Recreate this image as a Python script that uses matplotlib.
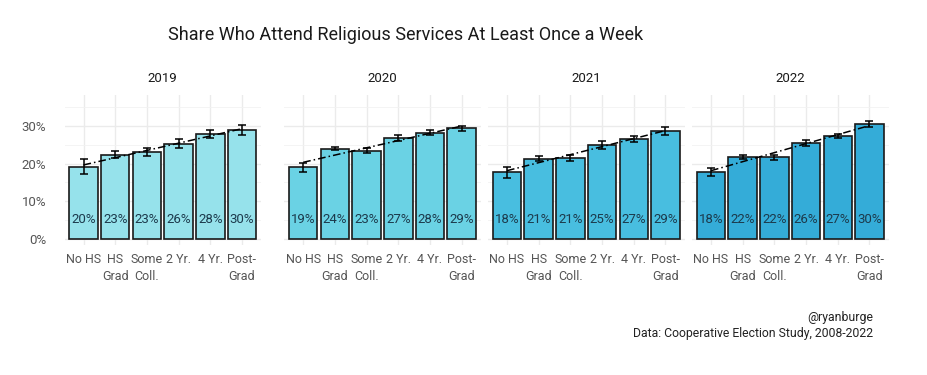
import numpy as np
import matplotlib.pyplot as plt

plt.rcParams['font.family'] = ['Roboto', 'DejaVu Sans']

years = ['2019', '2020', '2021', '2022']
categories = ['No HS', 'HS\nGrad', 'Some\nColl.', '2 Yr.', '4 Yr.', 'Post-\nGrad']

# share attending weekly (bar heights)
share_2019 = [0.192, 0.224, 0.231, 0.253, 0.279, 0.290]
share_2020 = [0.191, 0.240, 0.235, 0.268, 0.283, 0.294]
share_2021 = [0.177, 0.213, 0.214, 0.250, 0.267, 0.287]
share_2022 = [0.178, 0.218, 0.217, 0.256, 0.274, 0.305]

# half width of the error bars
err_2019 = [0.020, 0.010, 0.010, 0.012, 0.010, 0.014]
err_2020 = [0.012, 0.004, 0.006, 0.008, 0.006, 0.007]
err_2021 = [0.015, 0.007, 0.008, 0.0115, 0.008, 0.010]
err_2022 = [0.0105, 0.006, 0.0065, 0.008, 0.005, 0.0075]

# printed labels
lab_2019 = [20, 23, 23, 26, 28, 30]
lab_2020 = [19, 24, 23, 27, 28, 29]
lab_2021 = [18, 21, 21, 25, 27, 29]
lab_2022 = [18, 22, 22, 26, 27, 30]

colors = ['#96e2eb', '#6ad2e4', '#48bee0', '#34acd8']

shares = [share_2019, share_2020, share_2021, share_2022]
errs = [err_2019, err_2020, err_2021, err_2022]
labels = [lab_2019, lab_2020, lab_2021, lab_2022]

fig = plt.figure(figsize=(9.27, 3.75), dpi=100)
lefts = [64.5, 284.2, 488, 692]
W, H = 927, 375

x = np.arange(len(categories))
for i, yr in enumerate(years):
    ax = fig.add_axes([lefts[i] / W, 1 - 245 / H, 196.5 / W, 150 / H])
    ax.set_yticks([0.05, 0.15, 0.25, 0.35], minor=True)
    ax.grid(True, which='major', color='#ebebeb', linewidth=1.0)
    ax.grid(True, which='minor', axis='y', color='#f2f2f2', linewidth=0.6)
    ax.set_axisbelow(True)
    ax.bar(x, shares[i], width=0.9, color=colors[i], edgecolor='#1a1a1a', linewidth=1.2)
    ax.errorbar(x, shares[i], yerr=errs[i], fmt='none', ecolor='black',
                elinewidth=1.1, capsize=3, capthick=1.1)
    k, b = np.polyfit(x, shares[i], 1)
    ax.plot(x, k * x + b, color='black', linewidth=1.1, linestyle=(0, (5, 2, 1, 2)))
    for xi, lab in zip(x, labels[i]):
        ax.text(xi, 0.05, f'{lab}%', ha='center', va='center', fontsize=9.5, color='#1c3a4c')
    ax.set_xlim(-0.6, 5.6)
    ax.set_ylim(-0.017, 0.383)
    ax.set_xticks(x)
    ax.set_xticklabels(categories, fontsize=9, color='#555555', linespacing=1.35)
    ax.set_yticks([0, 0.1, 0.2, 0.3])
    if i == 0:
        ax.set_yticklabels(['0%', '10%', '20%', '30%'], fontsize=9.5, color='#555555')
    else:
        ax.set_yticklabels([])
    ax.tick_params(axis='both', which='both', length=0)
    ax.tick_params(axis='y', pad=13)
    ax.tick_params(axis='x', pad=6)
    for s in ax.spines.values():
        s.set_visible(False)
    ax.set_title(yr, fontsize=9.5, color='#1a1a1a', pad=9)

fig.text(168 / W, 1 - 35 / H, 'Share Who Attend Religious Services At Least Once a Week',
         fontsize=13, ha='left', va='center', color='#1a1a1a')
fig.text(873 / W, 1 - 317 / H, '@ryanburge', fontsize=8.8, ha='right', va='center', color='#222222')
fig.text(873 / W, 1 - 334 / H, 'Data: Cooperative Election Study, 2008-2022', fontsize=8.8,
         ha='right', va='center', color='#222222')

fig.savefig('out.png', dpi=100, facecolor='white')
